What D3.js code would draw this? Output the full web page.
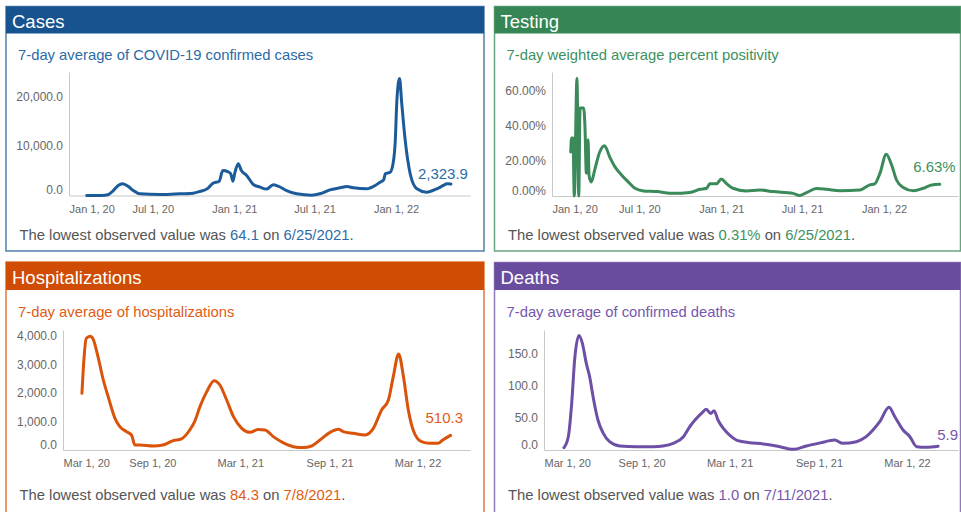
<!DOCTYPE html>
<html><head><meta charset="utf-8">
<script src="https://cdn.jsdelivr.net/npm/d3@7"></script>
<style>
body{margin:0;background:#fff;}
svg text{font-family:"Liberation Sans",Arial,Helvetica,sans-serif;}
</style>
</head><body>
<svg id="chart" width="961" height="512"></svg>
<script>
// ---------------- DATA ----------------
const casesDates = ["2020-02-03","2020-03-08","2020-03-22","2020-04-03","2020-04-14","2020-04-24","2020-05-07","2020-05-18","2020-06-02","2020-07-17","2020-08-20","2020-09-30","2020-10-15","2020-11-03","2020-11-14","2020-11-28","2020-12-06","2020-12-18","2020-12-24","2020-12-29","2021-01-02","2021-01-10","2021-01-17","2021-01-29","2021-02-13","2021-02-28","2021-03-15","2021-03-30","2021-04-10","2021-04-29","2021-05-22","2021-06-25","2021-07-13","2021-08-05","2021-08-28","2021-09-12","2021-09-27","2021-10-27","2021-11-15","2021-11-26","2021-12-04","2021-12-08","2021-12-19","2021-12-27","2021-12-30","2022-01-03","2022-01-09","2022-01-14","2022-01-21","2022-02-02","2022-02-17","2022-03-11","2022-04-03","2022-04-18","2022-04-26","2022-05-05"];
const casesValues = [0,5,150,1000,2030,2400,1830,1010,340,200,300,470,800,1480,2500,2900,5070,4800,4400,2900,4500,6430,5070,4060,2230,1700,1300,2170,1890,1010,340,64.1,340,1150,1560,1830,1560,1350,2030,2700,3180,4400,4730,7440,10480,19270,23670,18600,11800,4400,1360,670,1360,2030,2370,2323.9];

const testingDates = ["2020-01-29","2020-01-31","2020-02-03","2020-02-06","2020-02-12","2020-02-16","2020-02-19","2020-02-27","2020-03-01","2020-03-04","2020-03-08","2020-03-10","2020-03-15","2020-03-23","2020-04-03","2020-04-14","2020-04-25","2020-05-07","2020-05-22","2020-06-06","2020-06-21","2020-07-10","2020-08-09","2020-09-15","2020-10-22","2020-11-14","2020-11-29","2020-12-06","2020-12-21","2021-01-01","2021-01-12","2021-01-27","2021-02-26","2021-03-28","2021-04-27","2021-06-11","2021-06-25","2021-07-11","2021-08-02","2021-08-25","2021-09-24","2021-11-08","2021-11-30","2021-12-11","2021-12-23","2022-01-06","2022-01-18","2022-01-29","2022-02-13","2022-03-08","2022-03-30","2022-04-18","2022-05-06"];
const testingValues = [25,33,33,0,67,0,50,50,39,13,32,12,8,15,25,28.6,22.5,16.7,12,8,4.4,2.9,2.5,1.5,2,3.8,4.4,6.9,6.9,9.7,7.2,4.4,2.9,3.4,2.5,1.5,0.31,1.9,4.2,3.8,3,3.4,6.3,6.9,13,23.8,17.7,9.1,4.9,3,4.4,6.3,6.63];

const hospDates = ["2020-04-09","2020-04-13","2020-04-18","2020-04-26","2020-05-02","2020-05-12","2020-05-23","2020-06-02","2020-06-16","2020-06-26","2020-07-10","2020-07-20","2020-07-27","2020-08-06","2020-09-03","2020-09-23","2020-10-14","2020-10-31","2020-11-17","2020-11-27","2020-12-08","2020-12-22","2021-01-06","2021-01-18","2021-02-01","2021-02-15","2021-03-04","2021-03-21","2021-04-07","2021-04-21","2021-05-08","2021-05-28","2021-06-18","2021-07-08","2021-07-26","2021-08-12","2021-09-02","2021-09-19","2021-09-29","2021-10-20","2021-11-13","2021-11-30","2021-12-17","2021-12-31","2022-01-10","2022-01-21","2022-01-31","2022-02-10","2022-02-20","2022-03-09","2022-03-26","2022-04-12","2022-04-22","2022-05-08"];
const hospValues = [1983,3150,3908,3980,3880,3267,2450,1867,1108,817,642,525,175,175,140,175,327,392,700,992,1517,2042,2427,2275,1750,1167,758,618,717,700,467,257,117,84.3,140,350,618,723,642,583,525,758,1400,1750,2567,3360,2567,1400,700,292,233,233,350,510.3];

const deathsDates = ["2020-03-25","2020-04-03","2020-04-10","2020-04-16","2020-04-25","2020-05-02","2020-05-10","2020-05-17","2020-05-24","2020-06-03","2020-06-14","2020-06-27","2020-07-18","2020-08-21","2020-09-25","2020-10-15","2020-11-05","2020-11-26","2020-12-10","2020-12-23","2021-01-02","2021-01-12","2021-01-21","2021-01-28","2021-02-05","2021-02-16","2021-03-01","2021-03-18","2021-04-11","2021-05-09","2021-06-05","2021-07-11","2021-08-06","2021-09-06","2021-10-03","2021-10-20","2021-11-17","2021-12-07","2021-12-21","2022-01-04","2022-01-23","2022-02-04","2022-02-21","2022-03-07","2022-03-21","2022-04-10","2022-05-04"];
const deathsValues = [3.6,20.8,73,140.6,179,166.7,135.5,114.5,83.3,46.9,26,13,6.3,5.2,5.2,6.3,10.4,20.8,37.5,49.5,57.3,63.5,57,61.5,46.9,33.8,23.4,14.6,11.5,9.4,6.3,1.0,6.3,11.5,15.6,10.4,13,20.8,31.3,44.3,66.7,52,31.3,20.8,5.2,4.2,5.9];

const casesYTicks = [0, 10000, 20000];
const testingYTicks = [0, 20, 40, 60];
const hospYTicks = [0, 1000, 2000, 3000, 4000];
const deathsYTicks = [0, 50, 100, 150];
const janJulTicks = ["2020-01-01","2020-07-01","2021-01-01","2021-07-01","2022-01-01"];
const marSepTicks = ["2020-03-01","2020-09-01","2021-03-01","2021-09-01","2022-03-01"];

const titles = ["Cases","Testing","Hospitalizations","Deaths"];
const subtitles = ["7-day average of COVID-19 confirmed cases","7-day weighted average percent positivity","7-day average of hospitalizations","7-day average of confirmed deaths"];
const lowestValues = ["64.1","0.31%","84.3","1.0"];
const lowestDates = ["6/25/2021","6/25/2021","7/8/2021","7/11/2021"];

// ---------------- CHART ----------------
const parse = d3.timeParse("%Y-%m-%d");
const fmtNum = d3.format(",.1f");
const fmtPct = d => d3.format(".2f")(d) + "%";
const fmtDate = d3.timeFormat("%b %-d, %y");

const panels = [
  {dates: casesDates, values: casesValues, yTicks: casesYTicks, xTicks: janJulTicks, fmt: fmtNum,
   header: "#17538f", line: "#1c5b99", text: "#2c6ba7",
   box: [6, 6.5, 478, 244.5], hh: 27, subY: 60, footY: 239.5,
   xr: [69, 470], yr: [195.5, 72], xd: ["2019-12-25","2022-06-17"], ymax: 25000, lab: [17, -5]},
  {dates: testingDates, values: testingValues, yTicks: testingYTicks, xTicks: janJulTicks, fmt: fmtPct,
   header: "#358654", line: "#3a8a5a", text: "#3d9160",
   box: [494.5, 6.5, 466, 244.5], hh: 27, subY: 60, footY: 239.5,
   xr: [552, 958], yr: [196, 72], xd: ["2019-12-18","2022-06-16"], ymax: 70.5, lab: [16, -12]},
  {dates: hospDates, values: hospValues, yTicks: hospYTicks, xTicks: marSepTicks, fmt: fmtNum,
   header: "#d04b03", line: "#d9530a", text: "#df5c14",
   box: [6, 262, 478, 270], hh: 28, subY: 316.5, footY: 500,
   xr: [63, 470], yr: [450, 330], xd: ["2020-03-01","2022-06-17"], ymax: 4200, lab: [12.5, -12]},
  {dates: deathsDates, values: deathsValues, yTicks: deathsYTicks, xTicks: marSepTicks, fmt: fmtNum,
   header: "#6a4c9f", line: "#6e4fa6", text: "#7657ad",
   box: [494.5, 262.5, 466, 270], hh: 27.5, subY: 316.5, footY: 500,
   xr: [544, 958], yr: [450, 330], xd: ["2020-02-13","2022-06-14"], ymax: 187.5, lab: [20, -6]}
];

const svg = d3.select("#chart");

panels.forEach((p, i) => {
  const [bx, by, bw, bh] = p.box;
  const g = svg.append("g");
  // border
  g.append("rect").attr("x", bx).attr("y", by).attr("width", bw).attr("height", bh)
    .attr("fill", "#fff").attr("stroke", p.header).attr("stroke-opacity", 0.75).attr("stroke-width", 1.5);
  // header
  g.append("rect").attr("x", bx).attr("y", by).attr("width", bw).attr("height", p.hh).attr("fill", p.header);
  g.append("text").attr("x", bx + 6).attr("y", by + 21.7).attr("fill", "#fff")
    .attr("font-size", 18.5).text(titles[i]);
  // subtitle
  g.append("text").attr("x", bx + 12).attr("y", p.subY).attr("fill", p.text)
    .attr("font-size", 14.8).text(subtitles[i]);
  // footnote
  const ft = g.append("text").attr("x", bx + 13.5).attr("y", p.footY).attr("font-size", 14.8).attr("fill", "#555");
  ft.append("tspan").text("The lowest observed value was ");
  ft.append("tspan").attr("fill", p.text).text(lowestValues[i]);
  ft.append("tspan").text(" on ");
  ft.append("tspan").attr("fill", p.text).text(lowestDates[i]);
  ft.append("tspan").text(".");

  // scales
  const x = d3.scaleTime().domain(p.xd.map(parse)).range(p.xr);
  const y = d3.scaleLinear().domain([0, p.ymax]).range(p.yr);

  // y axis
  const ya = g.append("g").attr("transform", `translate(${p.xr[0]},0)`)
    .call(d3.axisLeft(y).tickValues(p.yTicks).tickFormat(p.fmt).tickSize(0).tickSizeOuter(0).tickPadding(6));
  ya.select(".domain").attr("stroke", "#c8c8c8");
  ya.selectAll("text").attr("fill", "#666").attr("font-size", 12)
    .attr("font-family", "'Liberation Sans',Arial,Helvetica,sans-serif");
  ya.selectAll(".tick").filter(d => d === 0).select("text").attr("dy", "-0.15em");

  // x axis
  const xTickDates = p.xTicks.map(parse);
  const xa = g.append("g").attr("transform", `translate(0,${p.yr[0]})`)
    .call(d3.axisBottom(x).tickValues(xTickDates).tickFormat(fmtDate).tickSize(0).tickSizeOuter(0).tickPadding(9.5));
  xa.select(".domain").attr("stroke", "#c8c8c8");
  xa.selectAll("text").attr("fill", "#666").attr("font-size", 11)
    .attr("font-family", "'Liberation Sans',Arial,Helvetica,sans-serif");
  // flush first label to the range start
  xa.selectAll(".tick").filter((d, j) => j === 0).select("text")
    .attr("text-anchor", "start").attr("x", d => p.xr[0] - x(d));

  // line
  const pts = p.dates.map((d, j) => ({date: parse(d), value: p.values[j]}));
  const line = d3.line().x(d => x(d.date)).y(d => y(d.value)).curve(d3.curveMonotoneX);
  g.append("path").datum(pts).attr("d", line).attr("fill", "none")
    .attr("stroke", p.line).attr("stroke-width", 3).attr("stroke-linejoin", "round").attr("stroke-linecap", "round");

  // end label
  const last = pts[pts.length - 1];
  g.append("text").attr("x", x(last.date) + p.lab[0]).attr("y", y(last.value) + p.lab[1])
    .attr("text-anchor", "end").attr("fill", p.text).attr("font-size", 15)
    .text(p.fmt(last.value));
});
</script>
</body></html>
